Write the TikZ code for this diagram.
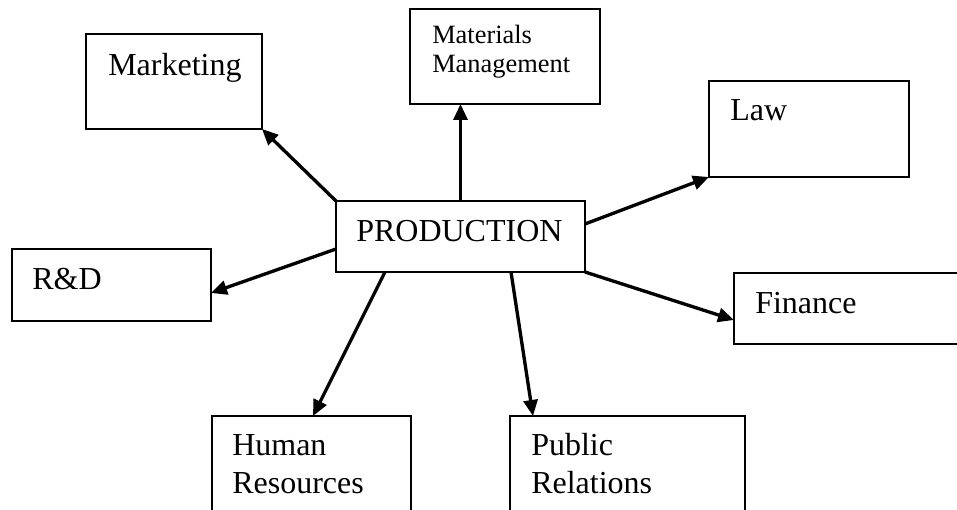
\documentclass[tikz,border=0pt]{standalone}
\usepackage{fontspec}
\setmainfont{Liberation Serif}
\usetikzlibrary{arrows.meta,calc}
\begin{document}
\begin{tikzpicture}[x=0.75pt,y=-0.75pt,
  box/.style={draw=black,line width=1.7pt,rectangle,inner sep=0pt,outer sep=0pt,fill=white},
  lbl/.style={inner sep=0pt,anchor=base west,font=\fontsize{24pt}{28pt}\selectfont},
  small/.style={inner sep=0pt,anchor=base west,font=\fontsize{19.8pt}{22pt}\selectfont},
  link/.style={line width=2.5pt,-{Triangle[length=12pt,width=10.5pt]}}]
\useasboundingbox (0,0) rectangle (957,510);
\clip (0,0) rectangle (957,510);
\fill[white] (0,0) rectangle (957,510);

% department boxes
\node[box,minimum width=132pt,minimum height=71.25pt] (mkt) at (174,81.5) {};
\node[box,minimum width=142.5pt,minimum height=71.25pt] (mat) at (505,56.5) {};
\node[box,minimum width=150pt,minimum height=72pt] (law) at (809,129) {};
\node[box,minimum width=186.75pt,minimum height=53.25pt] (prod) at (460.5,236.5) {};
\node[box,minimum width=149.25pt,minimum height=54pt] (rd) at (111.5,285) {};
\node[box,minimum width=192pt,minimum height=53.25pt] (fin) at (862,308.5) {};
\node[box,minimum width=149.25pt,minimum height=78pt] (hr) at (311.5,468) {};
\node[box,minimum width=176.25pt,minimum height=78pt] (pr) at (627.5,468) {};

% labels
\node[lbl] (tmkt) at (108,75) {Marketing};
\node[small] (tmat1) at (432,44) {Materials};
\node[small] (tmat2) at (432,73) {Management};
\node[lbl] (tlaw) at (730,121) {Law};
\node[lbl] (tprod) at (356,241) {PRODUCTION};
\node[lbl] (trd) at (32,289) {R\&D};
\node[lbl] (tfin) at (755,313) {Finance};
\node[lbl] (thr1) at (232,455) {Human};
\node[lbl] (thr2) at (232,493) {Resources};
\node[lbl] (tpr1) at (531,455) {Public};
\node[lbl] (tpr2) at (531,493) {Relations};

% connectors from PRODUCTION
\draw[link] (prod.north west) -- (mkt.south east);
\draw[link] (prod.north) -- (prod.north |- mat.south);
\draw[link] ($(prod.east)+(0,-12.5)$) -- (law.south west);
\draw[link] ($(prod.west)+(0,12.5)$) -- ($(rd.east)+(0,8)$);
\draw[link] (prod.south east) -- ($(fin.west)+(0,11.5)$);
\draw[link] ($(prod.south)+(-75.5,0)$) -- ($(hr.north)+(1.5,0)$);
\draw[link] ($(prod.south)+(50.5,0)$) -- ($(pr.north)+(-94.5,0)$);
\end{tikzpicture}
\end{document}
